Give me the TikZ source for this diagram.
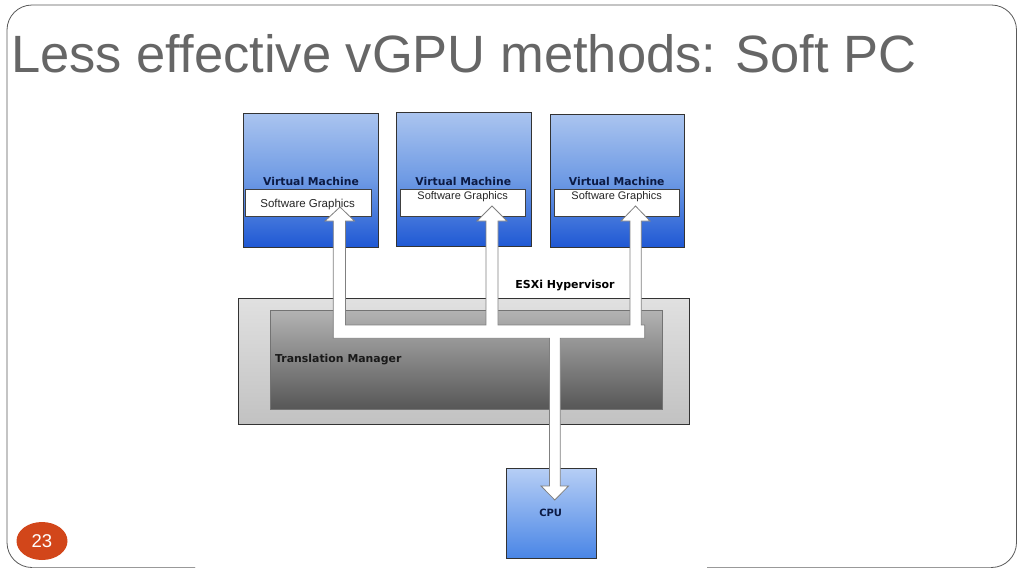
\documentclass[tikz,border=0pt]{standalone}
\usepackage{fontspec}
\setmainfont{Liberation Sans}
\newfontfamily\djb{DejaVu Sans}[BoldFont={DejaVu Sans Bold}]
\usetikzlibrary{shapes.geometric}
\begin{document}
\begin{tikzpicture}[x=1pt,y=-1pt,
  vmbox/.style={draw=black!80, line width=0.9pt, top color=vmtop, bottom color=vmbot, middle color=vmmid, minimum width=135pt, minimum height=134pt, inner sep=0pt},
  sgbox/.style={draw=black!75, line width=0.7pt, fill=white, minimum width=126pt, minimum height=27pt, inner sep=0pt},
  vmlabel/.style={font=\djb\bfseries\fontsize{10.8}{12}\selectfont, text=navytext, inner sep=0pt},
  sglabel/.style={font=\fontsize{11}{12}\selectfont, text=black!85, inner sep=0pt},
  blockarrow/.style={fill=white, draw=black!50, line width=0.8pt, line join=miter},
]
\definecolor{vmtop}{HTML}{AAC4EF}
\definecolor{vmmid}{HTML}{6E9AE4}
\definecolor{vmbot}{HTML}{1F58D4}
\definecolor{cputop}{HTML}{B6CEF5}
\definecolor{cpubot}{HTML}{4A86E6}
\definecolor{navytext}{HTML}{0B1A44}
\definecolor{titlegray}{HTML}{666666}
\definecolor{pagered}{HTML}{D2461A}
\useasboundingbox (0,0) rectangle (1024,576);
% slide frame
\draw[black!65, line width=0.8pt, rounded corners=25pt] (195,567.5) -- (7,567.5) -- (7,5) -- (1016.5,5) -- (1016.5,567.5) -- (707,567.5);
\draw[black!40, line width=1.8pt] (32,567.5) -- (195,567.5);
\draw[black!40, line width=1.8pt] (707,567.5) -- (991,567.5);
% title
\node[anchor=base west, inner sep=0pt, text=titlegray, font=\fontsize{52.5}{60}\selectfont] (title) at (11,72) {Less effective vGPU methods: Soft PC};
% page number
\node[ellipse, fill=pagered, minimum width=51pt, minimum height=38pt, inner sep=0pt, text=white, font=\fontsize{18.5}{20}\selectfont] (page) at (42,541) {23};
% virtual machines
\node[vmbox] (vm1) at (310.7,180.2) {};
\node[vmbox] (vm2) at (463.5,179.7) {};
\node[vmbox, minimum width=134pt, minimum height=133pt] (vm3) at (617.2,180.5) {};
\node[vmlabel] (vml1) at (311,181) {Virtual Machine};
\node[vmlabel] (vml2) at (463.3,181) {Virtual Machine};
\node[vmlabel] (vml3) at (616.7,181.5) {Virtual Machine};
\node[sgbox] (sg1) at (308.5,203.3) {};
\node[sgbox, minimum width=125pt] (sg2) at (463.3,203.3) {};
\node[sgbox, minimum width=125pt] (sg3) at (617,203.3) {};
\node[sglabel, font=\fontsize{11.5}{12}\selectfont] (sgl1) at (307.7,204.5) {Software Graphics};
\node[sglabel] (sgl2) at (462.7,196.8) {Software Graphics};
\node[sglabel] (sgl3) at (616.7,196.8) {Software Graphics};
% hypervisor
\node[draw=black!80, line width=0.9pt, top color=black!12, bottom color=black!24, minimum width=451pt, minimum height=125.7pt, inner sep=0pt] (esxi) at (463.8,361.2) {};
\node[draw=black!55, line width=0.6pt, top color=black!30, bottom color=black!66, minimum width=392pt, minimum height=98.3pt, inner sep=0pt] (tm) at (466.7,359.9) {};
\node[anchor=center, inner sep=0pt, font=\djb\bfseries\fontsize{11}{12}\selectfont] (esxil) at (565,286) {ESXi Hypervisor};
\node[anchor=west, inner sep=0pt, text=black!90, font=\djb\bfseries\fontsize{10.9}{12}\selectfont] (tml) at (275,360) {Translation Manager};
% cpu
\node[draw=black!80, line width=0.9pt, top color=cputop, bottom color=cpubot, minimum width=89.3pt, minimum height=89.7pt, inner sep=0pt] (cpu) at (551.3,513.2) {};
\node[inner sep=0pt, text=navytext, font=\djb\bfseries\fontsize{10}{11}\selectfont] (cpul) at (550.7,513) {CPU};
% block arrow network
\draw[blockarrow] (333.3,338.3) -- (333.3,221) -- (325,221) -- (340,207) -- (354.5,221) -- (345.5,221) -- (345.5,325)
  -- (486,325) -- (486,221) -- (477,221) -- (492,206) -- (507,221) -- (498,221) -- (498,325)
  -- (630,325) -- (630,221) -- (621,221) -- (635.5,206) -- (650,221) -- (641.3,221) -- (641.3,325)
  -- (644.7,325) -- (644.7,338.3) -- (560.3,338.3) -- (560.3,486) -- (568.5,486) -- (554.8,500) -- (541,486) -- (549.5,486) -- (549.5,338.3) -- cycle;
\end{tikzpicture}
\end{document}
